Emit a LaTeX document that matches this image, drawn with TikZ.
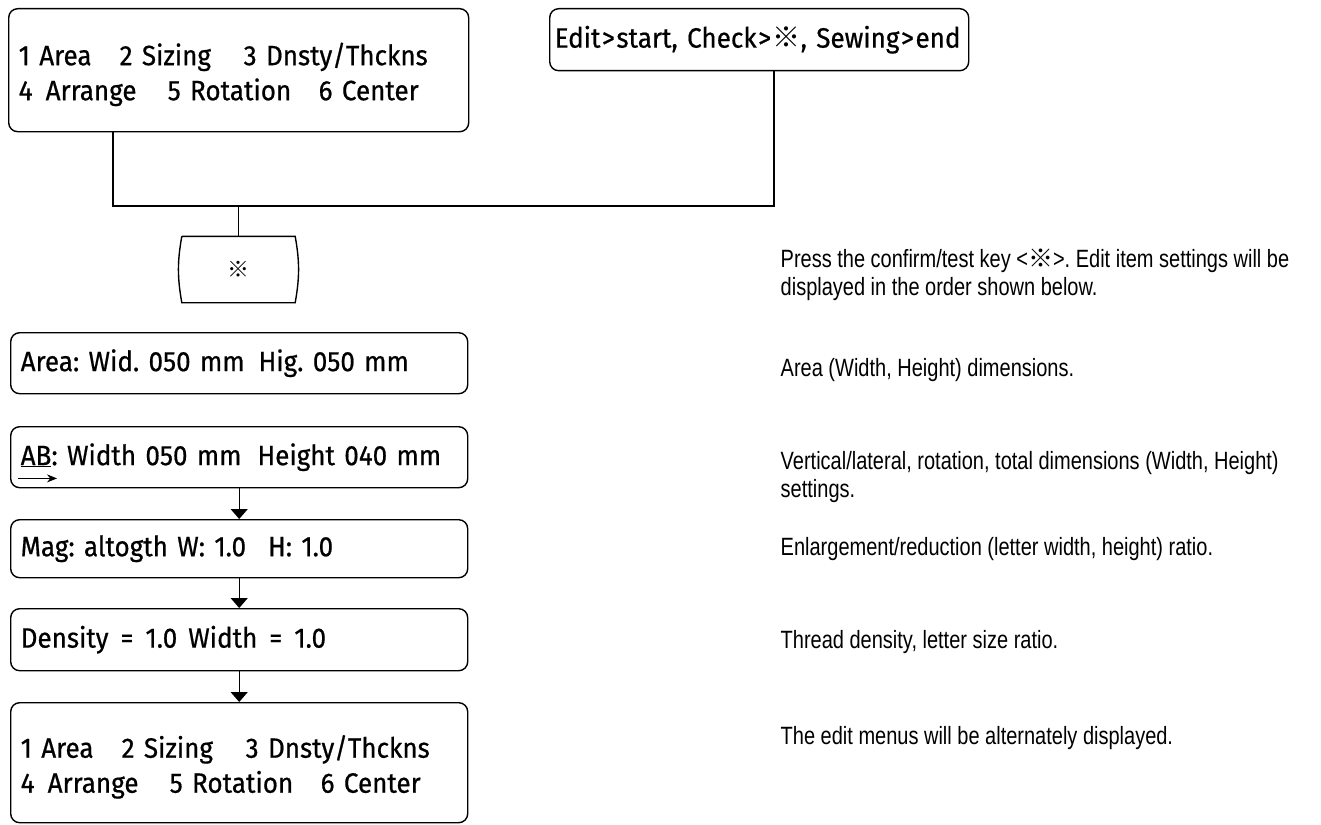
\documentclass[tikz,border=0pt]{standalone}
\usepackage{fontspec}
\setmainfont{Fira Sans}[FakeStretch=0.93,FakeBold=0.6]
\newfontfamily\helv{Liberation Sans}[FakeStretch=0.8]
\newfontfamily\cjkmark{Noto Sans CJK JP}
\usetikzlibrary{arrows.meta}
\newcommand{\refmark}{{\cjkmark ※}}
\newcommand{\editmenu}{\rule{0pt}{31pt}\makebox[101pt][l]{1 Area}\makebox[124pt][l]{2 Sizing}3 Dnsty/Thckns\\
  \makebox[27pt][l]{4}\makebox[122pt][l]{Arrange}\makebox[151pt][l]{5 Rotation}6 Center}
\frenchspacing

\begin{document}
\begin{tikzpicture}[x=1pt,y=1pt,line width=1.4pt,
    panel/.style={draw, rounded corners=9pt, anchor=north west, align=left,
      inner xsep=10pt, inner ysep=0pt, font=\fontsize{28}{35}\selectfont},
    note/.style={anchor=base west, align=left, inner sep=0pt,
      font=\helv\fontsize{25}{27.5}\selectfont},
    flow/.style={-{Triangle[length=10pt,width=17pt]}}]
  \useasboundingbox (0,0) rectangle (1321,-824);
  % menus and key guide
  \node[panel, text width=440pt, minimum height=123pt] (menu) at (8,-8) {\editmenu};
  \node[panel, inner xsep=5pt, text width=409pt, minimum height=62pt] (edit) at (549,-8)
    {\mbox{Edit\hspace{1.5pt}>\hspace{1.5pt}start, Check\hspace{1.5pt}>\hspace{1.5pt}\refmark,
     Sewing\hspace{1.5pt}>\hspace{1.5pt}end}};
  \coordinate (jl) at (113,-206);
  \coordinate (jr) at (774,-206);
  \draw (menu.south -| jl) -- (jl) -- (jr) -- (edit.south -| jr);
  % confirm key
  \node[minimum width=112pt, minimum height=65pt, inner sep=0pt,
    font=\cjkmark\fontsize{22}{22}\selectfont] (mark) at (238.5,-269.5) {※};
  \draw (mark.north west) -- (mark.north east) to[out=-80,in=80] (mark.south east)
    -- (mark.south west) to[out=100,in=-100] (mark.north west);
  \draw (mark.north) -- (mark.north |- jl);
  % edit items
  \node[panel, text width=437pt, minimum height=61pt] (area) at (10,-332)
    {Area: Wid. 050 mm\hspace{14pt}Hig. 050 mm};
  \node[panel, text width=437pt, minimum height=61pt] (ab) at (10,-426)
    {\underline{AB}: Width 050 mm\hspace{16pt}Height 040 mm};
  \draw[-{Stealth[length=10pt,width=8pt]}, line width=1pt]
    ([shift={(8,10)}]ab.south west) -- ++(39,0);
  \node[panel, text width=437pt, minimum height=58pt] (mag) at (10,-519)
    {Mag: altogth W: 1.0\hspace{22pt}H: 1.0};
  \node[panel, text width=437pt, minimum height=62pt] (dens) at (10,-608)
    {Density\hspace{12pt}=\hspace{12pt}1.0\hspace{11pt}Width\hspace{12pt}=\hspace{12pt}1.0};
  \node[panel, text width=437pt, minimum height=120pt] (again) at (10,-702) {\editmenu};
  \foreach \a/\b in {ab/mag, mag/dens, dens/again}
    \draw[flow] (\a.south) -- (\b.north);
  % explanations
  \node[note] (n1) at (780,-295)
    {Press the confirm/test key <\refmark>. Edit item settings will be\\
     displayed in the order shown below.};
  \node[note] (n2) at (780,-376) {Area (Width, Height) dimensions.};
  \node[note] (n3) at (780,-497)
    {Vertical/lateral, rotation, total dimensions (Width, Height)\\settings.};
  \node[note] (n4) at (780,-555) {Enlargement/reduction (letter width, height) ratio.};
  \node[note] (n5) at (780,-648) {Thread density, letter size ratio.};
  \node[note] (n6) at (780,-744) {The edit menus will be alternately displayed.};
\end{tikzpicture}
\end{document}
